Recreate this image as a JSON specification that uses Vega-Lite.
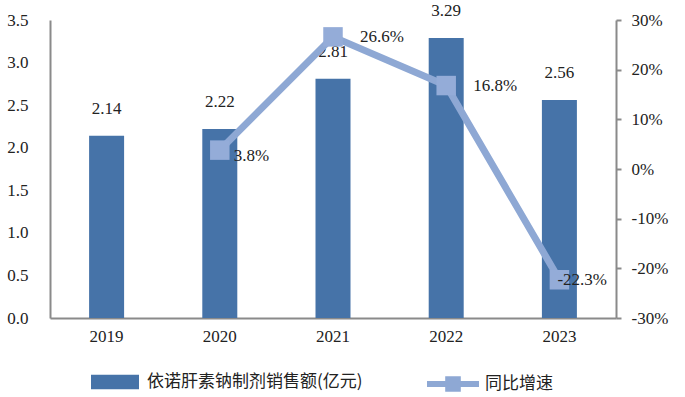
{
  "$schema": "https://vega.github.io/schema/vega-lite/v6.json",
  "width": 566,
  "height": 298,
  "autosize": {"type": "none"},
  "padding": {"left": 50, "top": 20, "right": 69, "bottom": 79},
  "background": "white",
  "config": {
    "view": {"stroke": null},
    "font": "serif",
    "axis": {"labelFont": "'Liberation Serif', 'DejaVu Serif', serif", "labelFontSize": 17, "labelColor": "#222", "domainColor": "#8a8a8a", "domainWidth": 2, "tickColor": "#8a8a8a", "tickWidth": 2, "grid": false, "title": null}
  },
  "data": {"values": [
    {"year": "2019", "sales": 2.14, "growth": null, "glabel": ""},
    {"year": "2020", "sales": 2.22, "growth": 0.038, "glabel": "3.8%"},
    {"year": "2021", "sales": 2.81, "growth": 0.266, "glabel": "26.6%"},
    {"year": "2022", "sales": 3.29, "growth": 0.168, "glabel": "16.8%"},
    {"year": "2023", "sales": 2.56, "growth": -0.223, "glabel": "-22.3%"}
  ]},
  "encoding": {
    "x": {"field": "year", "type": "ordinal", "scale": {"paddingInner": 0, "paddingOuter": 0},
      "axis": {"labelAngle": 0, "ticks": false, "labelPadding": 10}}
  },
  "layer": [
    {
      "encoding": {
        "y": {"field": "sales", "type": "quantitative", "scale": {"domain": [0, 3.5], "nice": false},
          "axis": {"values": [0, 0.5, 1, 1.5, 2, 2.5, 3, 3.5], "format": ".1f", "ticks": false, "labelPadding": 22}}
      },
      "layer": [
        {
          "mark": {"type": "bar", "size": 35},
          "encoding": {
            "color": {"datum": "依诺肝素钠制剂销售额(亿元)", "type": "nominal",
              "scale": {"range": ["#4673a8"]},
              "legend": {"title": null, "orient": "none", "legendX": 41, "legendY": 338,
                "symbolType": "M-1,-0.3L1,-0.3L1,0.3L-1,0.3Z", "symbolSize": 2304, "symbolStrokeWidth": 0,
                "labelFont": "Noto Sans CJK SC", "labelFontSize": 17, "labelColor": "#222", "labelOffset": 8, "labelLimit": 400}}
          }
        },
        {
          "mark": {"type": "text", "baseline": "middle", "dy": -27, "fontSize": 17, "color": "#222", "font": "'Liberation Serif', 'DejaVu Serif', serif"},
          "encoding": {"text": {"field": "sales", "type": "quantitative", "format": ".2f"}}
        }
      ]
    },
    {
      "transform": [{"filter": "datum.growth != null"}],
      "encoding": {
        "y": {"field": "growth", "type": "quantitative", "scale": {"domain": [-0.3, 0.3], "nice": false},
          "axis": {"orient": "right", "values": [-0.3, -0.2, -0.1, 0, 0.1, 0.2, 0.3], "format": ".0%", "labelExpr": "replace(datum.label, '−', '-')", "tickSize": 5, "labelPadding": 10}}
      },
      "layer": [
        {
          "mark": {"type": "line", "strokeWidth": 7},
          "encoding": {
            "stroke": {"datum": "同比增速", "type": "nominal", "scale": {"range": ["#8ea8d4"]},
              "legend": {"title": null, "orient": "none", "legendX": 377, "legendY": 338,
                "symbolType": "M-1,-0.12L-0.3,-0.12L-0.3,-0.3L0.3,-0.3L0.3,-0.12L1,-0.12L1,0.12L0.3,0.12L0.3,0.3L-0.3,0.3L-0.3,0.12L-1,0.12Z",
                "symbolSize": 2704, "symbolFillColor": "#8ea8d4", "symbolStrokeWidth": 0,
                "labelFont": "Noto Sans CJK SC", "labelFontSize": 17, "labelColor": "#222", "labelOffset": 6, "labelLimit": 400}}
          }
        },
        {
          "mark": {"type": "point", "shape": "square", "size": 380, "filled": true, "opacity": 1, "color": "#94acd8"}
        },
        {
          "transform": [{"filter": "datum.year == '2021' || datum.year == '2022'"}],
          "mark": {"type": "text", "align": "left", "baseline": "middle", "dx": 27, "fontSize": 17, "color": "#222", "font": "'Liberation Serif', 'DejaVu Serif', serif"},
          "encoding": {"text": {"field": "glabel"}}
        },
        {
          "transform": [{"filter": "datum.year == '2020'"}],
          "mark": {"type": "text", "align": "left", "baseline": "middle", "dx": 14, "dy": 6, "fontSize": 17, "color": "#222", "font": "'Liberation Serif', 'DejaVu Serif', serif"},
          "encoding": {"text": {"field": "glabel"}}
        },
        {
          "transform": [{"filter": "datum.year == '2023'"}],
          "mark": {"type": "text", "align": "left", "baseline": "middle", "dx": -2, "fontSize": 17, "color": "#222", "font": "'Liberation Serif', 'DejaVu Serif', serif"},
          "encoding": {"text": {"field": "glabel"}}
        }
      ]
    }
  ],
  "resolve": {"scale": {"y": "independent", "color": "independent", "stroke": "independent"}}
}
